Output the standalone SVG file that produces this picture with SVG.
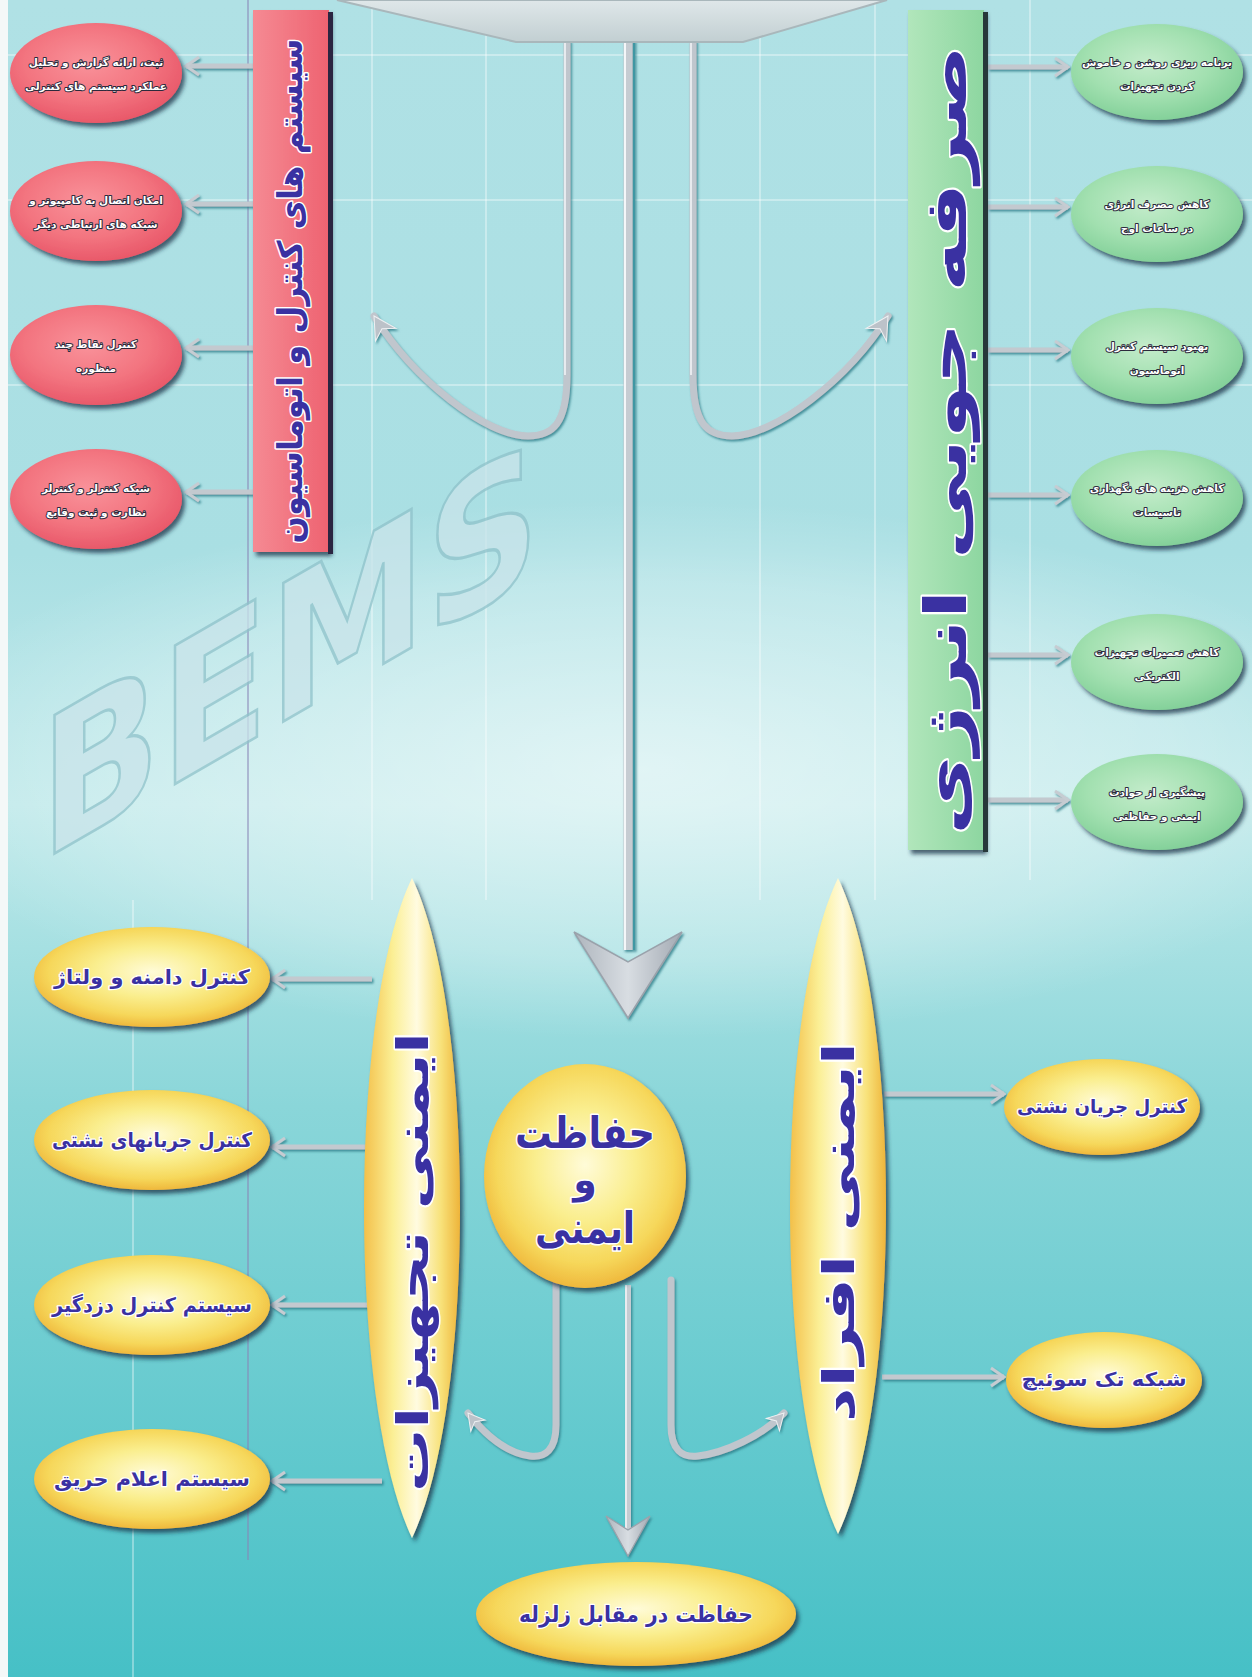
<svg xmlns="http://www.w3.org/2000/svg" width="1252" height="1677" viewBox="0 0 1252 1677">
<defs>
  <linearGradient id="bg" x1="0" y1="0" x2="0" y2="1">
    <stop offset="0" stop-color="#b0e1e5"/>
    <stop offset="0.33" stop-color="#a9dfe3"/>
    <stop offset="0.48" stop-color="#bfe9ea"/>
    <stop offset="0.66" stop-color="#8ad6d9"/>
    <stop offset="1" stop-color="#46c0c6"/>
  </linearGradient>
  <radialGradient id="glow" cx="0.5" cy="0.5" r="0.5">
    <stop offset="0" stop-color="#ffffff" stop-opacity="0.55"/>
    <stop offset="0.7" stop-color="#ffffff" stop-opacity="0.25"/>
    <stop offset="1" stop-color="#ffffff" stop-opacity="0"/>
  </radialGradient>
  <radialGradient id="gRed" cx="0.45" cy="0.4" r="0.6">
    <stop offset="0" stop-color="#f9929a"/>
    <stop offset="0.6" stop-color="#f37580"/>
    <stop offset="1" stop-color="#e9596a"/>
  </radialGradient>
  <radialGradient id="gGreen" cx="0.45" cy="0.4" r="0.6">
    <stop offset="0" stop-color="#c4eccb"/>
    <stop offset="0.6" stop-color="#a2e0b0"/>
    <stop offset="1" stop-color="#84d19a"/>
  </radialGradient>
  <radialGradient id="gYellow" cx="0.5" cy="0.45" r="0.55">
    <stop offset="0" stop-color="#fffbd8"/>
    <stop offset="0.45" stop-color="#faee8e"/>
    <stop offset="0.8" stop-color="#f6d75a"/>
    <stop offset="1" stop-color="#efb83c"/>
  </radialGradient>
  <linearGradient id="gPill" x1="0" y1="0" x2="1" y2="0">
    <stop offset="0" stop-color="#f3c04a"/>
    <stop offset="0.3" stop-color="#fbef95"/>
    <stop offset="0.55" stop-color="#fffbe0"/>
    <stop offset="0.8" stop-color="#f8e27a"/>
    <stop offset="1" stop-color="#eeb43a"/>
  </linearGradient>
  <linearGradient id="gRedBar" x1="0" y1="0" x2="1" y2="0">
    <stop offset="0" stop-color="#f58a93"/>
    <stop offset="1" stop-color="#ee6371"/>
  </linearGradient>
  <linearGradient id="gGreenBar" x1="0" y1="0" x2="1" y2="0">
    <stop offset="0" stop-color="#b1e6bb"/>
    <stop offset="1" stop-color="#8dd6a0"/>
  </linearGradient>
  <linearGradient id="gTop" x1="0" y1="0" x2="0" y2="1">
    <stop offset="0" stop-color="#dfe7e9"/>
    <stop offset="1" stop-color="#c2cfd2"/>
  </linearGradient>
  <linearGradient id="gHead" x1="0" y1="0" x2="1" y2="0">
    <stop offset="0" stop-color="#aeb5bd"/>
    <stop offset="0.5" stop-color="#d8dde2"/>
    <stop offset="1" stop-color="#a3aab3"/>
  </linearGradient>
  <filter id="sh" x="-20%" y="-20%" width="145%" height="145%">
    <feDropShadow dx="3" dy="4" stdDeviation="2" flood-color="#1e3346" flood-opacity="0.75"/>
  </filter>
  <filter id="lsh" x="-10%" y="-10%" width="120%" height="120%">
    <feDropShadow dx="1.5" dy="2" stdDeviation="0.8" flood-color="#2c7c88" flood-opacity="0.8"/>
  </filter>
  <marker id="chev" viewBox="-16 -11 18 22" markerWidth="18" markerHeight="22" refX="0" refY="0" orient="auto" markerUnits="userSpaceOnUse">
    <path d="M-13,-9 L0,0 L-13,9" fill="none" stroke="#c6ccd2" stroke-width="3"/>
  </marker>
  <marker id="barb" viewBox="-24 -14 26 28" markerWidth="26" markerHeight="28" refX="0" refY="0" orient="auto" markerUnits="userSpaceOnUse">
    <path d="M0,0 L-22,-12 L-15,0 L-22,12 Z" fill="#bcc2c9" stroke="#eef1f3" stroke-width="1"/>
  </marker>
  <marker id="barbS" viewBox="-18 -11 20 22" markerWidth="20" markerHeight="22" refX="0" refY="0" orient="auto" markerUnits="userSpaceOnUse">
    <path d="M0,0 L-16,-9 L-11,0 L-16,9 Z" fill="#bcc2c9" stroke="#eef1f3" stroke-width="1"/>
  </marker>
</defs>
<style>
  .conn { fill: none; stroke: #c3c9cf; stroke-width: 5; }
  .hook { fill: none; stroke: #c0c6cd; stroke-width: 7; stroke-linecap: round; }
  .hl { fill: none; stroke: #f4f6f8; stroke-width: 1.5; }
  .big { font-family: "DejaVu Sans", sans-serif; font-weight: bold; fill: #3a31a2; stroke: #ffffff; stroke-width: 3; paint-order: stroke; stroke-linejoin: round; }
  .lbl { font-family: "DejaVu Sans", sans-serif; font-weight: bold; fill: #3a31a2; stroke: #ffffff; stroke-width: 2.5; paint-order: stroke; stroke-linejoin: round; }
  .small { font-family: "DejaVu Sans", sans-serif; font-weight: bold; font-size: 10.5px; fill: #ffffff; stroke: #2c2a3c; stroke-width: 2; paint-order: stroke; stroke-linejoin: round; }
</style>

<g id="background">
  <rect width="1252" height="1677" fill="url(#bg)"/>
  <ellipse cx="640" cy="770" rx="760" ry="270" fill="url(#glow)"/>
  <g stroke="#ffffff" stroke-opacity="0.35" stroke-width="2">
    <line x1="372" y1="0" x2="372" y2="900"/>
    <line x1="486" y1="0" x2="486" y2="900"/>
    <line x1="760" y1="0" x2="760" y2="900"/>
    <line x1="875" y1="0" x2="875" y2="900"/>
    <line x1="1030" y1="0" x2="1030" y2="880"/>
    <line x1="133" y1="900" x2="133" y2="1677"/>
    <line x1="0" y1="55" x2="1252" y2="55"/>
    <line x1="0" y1="200" x2="1252" y2="200"/>
    <line x1="0" y1="385" x2="1252" y2="385"/>
  </g>
  <line x1="248" y1="0" x2="248" y2="1560" stroke="#8a86b8" stroke-width="1.5" stroke-opacity="0.7"/>
  <text transform="translate(40,862) skewY(-30)" x="0" y="0" font-family="DejaVu Sans, sans-serif" font-weight="bold" font-size="190" fill="#c9e4ea" stroke="#8fc2ca" stroke-width="3" opacity="0.75" textLength="500" lengthAdjust="spacingAndGlyphs">BEMS</text>
  <rect x="0" y="0" width="8" height="1677" fill="#f4f8f8"/>
</g>

<g id="connectors" filter="url(#lsh)">
  <line class="conn" x1="253" y1="66" x2="186" y2="66" marker-end="url(#chev)"/>
  <line class="conn" x1="253" y1="204" x2="186" y2="204" marker-end="url(#chev)"/>
  <line class="conn" x1="253" y1="348" x2="186" y2="348" marker-end="url(#chev)"/>
  <line class="conn" x1="253" y1="492" x2="186" y2="492" marker-end="url(#chev)"/>
  <line class="conn" x1="988" y1="67" x2="1068" y2="67" marker-end="url(#chev)"/>
  <line class="conn" x1="988" y1="207" x2="1068" y2="207" marker-end="url(#chev)"/>
  <line class="conn" x1="988" y1="350" x2="1068" y2="350" marker-end="url(#chev)"/>
  <line class="conn" x1="988" y1="495" x2="1068" y2="495" marker-end="url(#chev)"/>
  <line class="conn" x1="988" y1="655" x2="1068" y2="655" marker-end="url(#chev)"/>
  <line class="conn" x1="988" y1="800" x2="1068" y2="800" marker-end="url(#chev)"/>
  <line class="conn" x1="372" y1="979" x2="272" y2="979" marker-end="url(#chev)"/>
  <line class="conn" x1="368" y1="1147" x2="272" y2="1147" marker-end="url(#chev)"/>
  <line class="conn" x1="370" y1="1305" x2="272" y2="1305" marker-end="url(#chev)"/>
  <line class="conn" x1="382" y1="1481" x2="272" y2="1481" marker-end="url(#chev)"/>
  <line class="conn" x1="884" y1="1094" x2="1004" y2="1094" marker-end="url(#chev)"/>
  <line class="conn" x1="882" y1="1377" x2="1004" y2="1377" marker-end="url(#chev)"/>
  <path class="hook" d="M567,42 V375 C567,425 552,436 528,436 C486,436 414,380 374,316" marker-end="url(#barb)"/>
  <path class="hl" d="M565,42 V375"/>
  <path class="hook" d="M693,42 V375 C693,425 708,436 732,436 C774,436 848,380 888,316" marker-end="url(#barb)"/>
  <path class="hl" d="M691,42 V375"/>
  <line x1="628" y1="40" x2="628" y2="950" stroke="#c6ccd2" stroke-width="9"/>
  <line x1="625" y1="40" x2="625" y2="950" stroke="#f4f6f8" stroke-width="2"/>
  <line x1="634" y1="40" x2="634" y2="950" stroke="#3f97a3" stroke-width="2"/>
  <polygon points="574,932 628,962 682,932 628,1018" fill="url(#gHead)" stroke="#9aa2ab" stroke-width="1.5"/>
  <path class="hook" d="M556,1280 V1425 C556,1450 545,1458 530,1456 C508,1453 486,1436 468,1413" marker-end="url(#barbS)"/>
  <path class="hook" d="M671,1280 V1425 C671,1450 682,1458 698,1456 C724,1453 762,1436 784,1413" marker-end="url(#barbS)"/>
  <line x1="628" y1="1285" x2="628" y2="1530" stroke="#c6ccd2" stroke-width="6"/>
  <line x1="626" y1="1285" x2="626" y2="1530" stroke="#f4f6f8" stroke-width="1.5"/>
  <polygon points="606,1516 628,1530 650,1516 628,1556" fill="url(#gHead)" stroke="#9aa2ab" stroke-width="1.2"/>
</g>

<g id="node-bems">
  <polygon points="337,0 516,42 743,42 887,0" fill="url(#gTop)" stroke="#a9b7bb" stroke-width="2"/>
</g>

<g id="node-control">
  <rect x="253" y="10" width="76" height="542" fill="url(#gRedBar)" filter="url(#sh)"/>
  <rect x="328" y="12" width="5" height="542" fill="#2b2541"/>
  <text class="big" transform="translate(290,291) rotate(-90)" font-size="34" text-anchor="middle" dominant-baseline="central" textLength="505" lengthAdjust="spacingAndGlyphs">سیستم های کنترل و اتوماسیون</text>
</g>
<g id="node-control-1">
  <ellipse cx="96" cy="73" rx="86" ry="50" fill="url(#gRed)" filter="url(#sh)"/>
  <text class="small" x="96" y="66" text-anchor="middle">ثبت، ارائه گزارش و تحلیل</text>
  <text class="small" x="96" y="90" text-anchor="middle">عملکرد سیستم های کنترلی</text>
</g>
<g id="node-control-2">
  <ellipse cx="96" cy="211" rx="86" ry="50" fill="url(#gRed)" filter="url(#sh)"/>
  <text class="small" x="96" y="204" text-anchor="middle">امکان اتصال به کامپیوتر و</text>
  <text class="small" x="96" y="228" text-anchor="middle">شبکه های ارتباطی دیگر</text>
</g>
<g id="node-control-3">
  <ellipse cx="96" cy="355" rx="86" ry="50" fill="url(#gRed)" filter="url(#sh)"/>
  <text class="small" x="96" y="348" text-anchor="middle">کنترل نقاط چند</text>
  <text class="small" x="96" y="372" text-anchor="middle">منظوره</text>
</g>
<g id="node-control-4">
  <ellipse cx="96" cy="499" rx="86" ry="50" fill="url(#gRed)" filter="url(#sh)"/>
  <text class="small" x="96" y="492" text-anchor="middle">شبکه کنترلر و کنترلر</text>
  <text class="small" x="96" y="516" text-anchor="middle">نظارت و ثبت وقایع</text>
</g>

<g id="node-energy">
  <rect x="908" y="10" width="76" height="840" fill="url(#gGreenBar)" filter="url(#sh)"/>
  <rect x="983" y="12" width="5" height="840" fill="#27383a"/>
  <text class="big" transform="translate(946,440) rotate(-90)" font-size="58" text-anchor="middle" dominant-baseline="central" textLength="790" lengthAdjust="spacingAndGlyphs">صرفه جویی انرژی</text>
</g>
<g id="node-energy-1">
  <ellipse cx="1157" cy="72" rx="86" ry="48" fill="url(#gGreen)" filter="url(#sh)"/>
  <text class="small" x="1157" y="66" text-anchor="middle">برنامه ریزی روشن و خاموش</text>
  <text class="small" x="1157" y="90" text-anchor="middle">کردن تجهیزات</text>
</g>
<g id="node-energy-2">
  <ellipse cx="1157" cy="214" rx="86" ry="48" fill="url(#gGreen)" filter="url(#sh)"/>
  <text class="small" x="1157" y="208" text-anchor="middle">کاهش مصرف انرژی</text>
  <text class="small" x="1157" y="232" text-anchor="middle">در ساعات اوج</text>
</g>
<g id="node-energy-3">
  <ellipse cx="1157" cy="356" rx="86" ry="48" fill="url(#gGreen)" filter="url(#sh)"/>
  <text class="small" x="1157" y="350" text-anchor="middle">بهبود سیستم کنترل</text>
  <text class="small" x="1157" y="374" text-anchor="middle">اتوماسیون</text>
</g>
<g id="node-energy-4">
  <ellipse cx="1157" cy="498" rx="86" ry="48" fill="url(#gGreen)" filter="url(#sh)"/>
  <text class="small" x="1157" y="492" text-anchor="middle">کاهش هزینه های نگهداری</text>
  <text class="small" x="1157" y="516" text-anchor="middle">تاسیسات</text>
</g>
<g id="node-energy-5">
  <ellipse cx="1157" cy="662" rx="86" ry="48" fill="url(#gGreen)" filter="url(#sh)"/>
  <text class="small" x="1157" y="656" text-anchor="middle">کاهش تعمیرات تجهیزات</text>
  <text class="small" x="1157" y="680" text-anchor="middle">الکتریکی</text>
</g>
<g id="node-energy-6">
  <ellipse cx="1157" cy="802" rx="86" ry="48" fill="url(#gGreen)" filter="url(#sh)"/>
  <text class="small" x="1157" y="796" text-anchor="middle">پیشگیری از حوادث</text>
  <text class="small" x="1157" y="820" text-anchor="middle">ایمنی و حفاظتی</text>
</g>

<g id="node-safety">
  <ellipse cx="585" cy="1176" rx="101" ry="112" fill="url(#gYellow)" filter="url(#sh)"/>
  <text class="big" x="585" y="1148" font-size="44" text-anchor="middle" textLength="140" lengthAdjust="spacingAndGlyphs">حفاظت</text>
  <text class="big" x="585" y="1193" font-size="38" text-anchor="middle">و</text>
  <text class="big" x="585" y="1243" font-size="44" text-anchor="middle" textLength="100" lengthAdjust="spacingAndGlyphs">ایمنی</text>
</g>

<g id="node-equipment">
  <path d="M412,878 C476,1010 476,1405 412,1538 C348,1405 348,1010 412,878 Z" fill="url(#gPill)" filter="url(#sh)"/>
  <text class="big" transform="translate(412,1262) rotate(-90)" font-size="44" text-anchor="middle" dominant-baseline="central" textLength="460" lengthAdjust="spacingAndGlyphs">ایمنی تجهیزات</text>
</g>
<g id="node-equipment-1">
  <ellipse cx="152" cy="977" rx="118" ry="50" fill="url(#gYellow)" filter="url(#sh)"/>
  <text class="lbl" x="152" y="984" font-size="20" text-anchor="middle" textLength="196" lengthAdjust="spacingAndGlyphs">کنترل دامنه و ولتاژ</text>
</g>
<g id="node-equipment-2">
  <ellipse cx="152" cy="1140" rx="118" ry="50" fill="url(#gYellow)" filter="url(#sh)"/>
  <text class="lbl" x="152" y="1147" font-size="20" text-anchor="middle" textLength="200" lengthAdjust="spacingAndGlyphs">کنترل جریانهای نشتی</text>
</g>
<g id="node-equipment-3">
  <ellipse cx="152" cy="1305" rx="118" ry="50" fill="url(#gYellow)" filter="url(#sh)"/>
  <text class="lbl" x="152" y="1312" font-size="20" text-anchor="middle" textLength="200" lengthAdjust="spacingAndGlyphs">سیستم کنترل دزدگیر</text>
</g>
<g id="node-equipment-4">
  <ellipse cx="152" cy="1479" rx="118" ry="50" fill="url(#gYellow)" filter="url(#sh)"/>
  <text class="lbl" x="152" y="1486" font-size="20" text-anchor="middle" textLength="196" lengthAdjust="spacingAndGlyphs">سیستم اعلام حریق</text>
</g>

<g id="node-people">
  <path d="M838,878 C902,1010 902,1400 838,1534 C774,1400 774,1010 838,878 Z" fill="url(#gPill)" filter="url(#sh)"/>
  <text class="big" transform="translate(838,1232) rotate(-90)" font-size="44" text-anchor="middle" dominant-baseline="central" textLength="380" lengthAdjust="spacingAndGlyphs">ایمنی افراد</text>
</g>
<g id="node-people-1">
  <ellipse cx="1102" cy="1107" rx="98" ry="48" fill="url(#gYellow)" filter="url(#sh)"/>
  <text class="lbl" x="1102" y="1113" font-size="19" text-anchor="middle" textLength="170" lengthAdjust="spacingAndGlyphs">کنترل جریان نشتی</text>
</g>
<g id="node-people-2">
  <ellipse cx="1104" cy="1380" rx="98" ry="48" fill="url(#gYellow)" filter="url(#sh)"/>
  <text class="lbl" x="1104" y="1386" font-size="19" text-anchor="middle" textLength="165" lengthAdjust="spacingAndGlyphs">شبکه تک سوئیچ</text>
</g>

<g id="node-earthquake">
  <ellipse cx="636" cy="1614" rx="160" ry="52" fill="url(#gYellow)" filter="url(#sh)"/>
  <text class="lbl" x="636" y="1622" font-size="22" text-anchor="middle" textLength="234" lengthAdjust="spacingAndGlyphs">حفاظت در مقابل زلزله</text>
</g>
</svg>
